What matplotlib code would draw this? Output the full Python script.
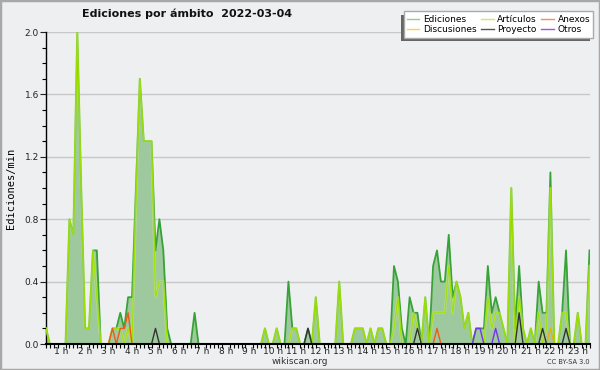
import numpy as np
import matplotlib
matplotlib.use('Agg')
import matplotlib.pyplot as plt
from matplotlib.patches import Rectangle
from matplotlib.lines import Line2D

# 10-minute bins, edits per minute
ediciones = [
    0.1, 0, 0, 0, 0, 0, 0.8, 0.7, 2.0, 1.0,
    0.1, 0.1, 0.6, 0.6, 0, 0, 0, 0.1, 0.1, 0.2,
    0.1, 0.3, 0.3, 1.0, 1.7, 1.3, 1.3, 1.3, 0.6, 0.8,
    0.6, 0.1, 0, 0, 0, 0, 0, 0, 0.2, 0,
    0, 0, 0, 0, 0, 0, 0, 0, 0, 0,
    0, 0, 0, 0, 0, 0, 0.1, 0, 0, 0.1,
    0, 0, 0.4, 0.1, 0.1, 0, 0, 0.1, 0, 0.3,
    0, 0, 0, 0, 0, 0.4, 0, 0, 0, 0.1,
    0.1, 0.1, 0, 0.1, 0, 0.1, 0.1, 0, 0, 0.5,
    0.4, 0.1, 0, 0.3, 0.2, 0.2, 0, 0.3, 0, 0.5,
    0.6, 0.4, 0.4, 0.7, 0.3, 0.4, 0.3, 0.1, 0.2, 0,
    0.1, 0.1, 0.1, 0.5, 0.2, 0.3, 0.2, 0.1, 0, 1.0,
    0.1, 0.5, 0.1, 0, 0.1, 0, 0.4, 0.2, 0.2, 1.1,
    0, 0, 0.2, 0.6, 0, 0, 0.2, 0, 0, 0.6,
]
articulos = [
    0.1, 0, 0, 0, 0, 0, 0.8, 0.7, 2.0, 1.0,
    0.1, 0.1, 0.6, 0.3, 0, 0, 0, 0.1, 0.1, 0.1,
    0, 0.1, 0, 0.9, 1.7, 1.3, 1.3, 1.3, 0.3, 0.4,
    0.4, 0, 0, 0, 0, 0, 0, 0, 0, 0,
    0, 0, 0, 0, 0, 0, 0, 0, 0, 0,
    0, 0, 0, 0, 0, 0, 0.1, 0, 0, 0.1,
    0, 0, 0, 0.1, 0.1, 0, 0, 0, 0, 0.3,
    0, 0, 0, 0, 0, 0.4, 0, 0, 0, 0.1,
    0.1, 0.1, 0, 0.1, 0, 0.1, 0.1, 0, 0, 0.1,
    0.3, 0, 0, 0, 0.2, 0.1, 0, 0.3, 0, 0.2,
    0.2, 0.2, 0.2, 0.5, 0.2, 0.4, 0.3, 0.1, 0.2, 0,
    0, 0, 0, 0.3, 0.1, 0.2, 0.2, 0.1, 0, 1.0,
    0, 0.3, 0.1, 0, 0.1, 0, 0.2, 0, 0.1, 1.0,
    0, 0, 0.2, 0.2, 0, 0, 0.2, 0, 0, 0.5,
]
# sparse series: {bin: value}
anexos = {17: 0.1, 19: 0.1, 20: 0.1, 21: 0.2, 100: 0.1}
discusiones = {129: 0.1}
proyecto = {28: 0.1, 67: 0.1, 95: 0.1, 121: 0.2, 127: 0.1, 133: 0.1}
otros = {110: 0.1, 111: 0.1, 115: 0.1}

hours = list(range(1, 24))
hour_labels = [f'{h} h' for h in hours]

n = len(ediciones)
x = np.arange(n)


def dense(d):
    v = np.zeros(n)
    for k, val in d.items():
        v[k] = val
    return v


def visible(v):
    # hide flat runs of zeros so only the bumps show
    v = np.asarray(v, dtype=float)
    nz = v > 0
    keep = nz | np.roll(nz, 1) | np.roll(nz, -1)
    return np.ma.masked_where(~keep, v)


def px_rect(left, top, right, bottom, **kw):
    # rectangle given in image pixels (origin top-left)
    return Rectangle((left / W, 1 - bottom / H), (right - left) / W, (bottom - top) / H,
                     transform=fig.transFigure, **kw)


bg = '#eeeff1'
W, H = 600, 370
fig = plt.figure(figsize=(6, 3.7), dpi=100, facecolor=bg)
ax = fig.add_axes([46 / W, 26 / H, 543.5 / W, 312 / H])
ax.set_facecolor(bg)

ed = np.array(ediciones)
ax.fill_between(x, 0, ed, color='#9ec99e', lw=0, zorder=2)
ax.plot(x, visible(ed), color='#37a337', lw=1.3, zorder=3)
ax.plot(x, visible(articulos), color='#d4f560', lw=1.8, alpha=0.45, zorder=4)
ax.plot(x, visible(articulos), color='#9fe000', lw=0.8, zorder=5)
ax.plot(x, visible(dense(anexos)), color='#ee5a1a', lw=1.0, zorder=6)
ax.plot(x, visible(dense(discusiones)), color='#eeb000', lw=1.0, zorder=6)
ax.plot(x, visible(dense(proyecto)), color='#333333', lw=1.0, zorder=6)
ax.plot(x, visible(dense(otros)), color='#7a33ee', lw=1.0, zorder=6)

ax.set_xlim(0, n - 1)
ax.set_ylim(0, 2.0)
ax.set_yticks(np.arange(0, 2.01, 0.4))
ax.set_yticks(np.arange(0, 2.01, 0.1), minor=True)
ax.set_yticklabels([f'{v:.1f}' for v in np.arange(0, 2.01, 0.4)])
ax.set_xticks([6 * h - 2 for h in hours])
ax.set_xticklabels(hour_labels)
ax.set_xticks(x, minor=True)
ax.tick_params(axis='x', which='major', length=0, pad=2, labelsize=6.5, colors='#222222')
ax.tick_params(axis='x', which='minor', length=3, width=0.8, color='#000000')
ax.tick_params(axis='y', which='major', length=4, width=0.8, labelsize=6.5, colors='#222222', pad=1)
ax.tick_params(axis='y', which='minor', length=3, width=0.8)
ax.grid(axis='y', which='major', color='#c8c8c8', lw=1, zorder=1)
ax.set_axisbelow(True)
for s in ('top', 'right'):
    ax.spines[s].set_visible(False)
ax.spines['left'].set_linewidth(1.0)
ax.spines['bottom'].set_linewidth(1.5)
ax.spines['bottom'].set_zorder(7)

ax.set_ylabel('Ediciones/min', family='DejaVu Sans Mono', fontsize=7.5, labelpad=6)
fig.text(187 / W, 1 - 14 / H, 'Ediciones por ámbito  2022-03-04',
         ha='center', va='center', fontsize=8, weight='bold', color='#111111')
fig.text(300 / W, 1 - 361 / H, 'wikiscan.org', ha='center', va='center',
         fontsize=6.5, color='#333333')
fig.text(590 / W, 1 - 362 / H, 'CC BY-SA 3.0', ha='right', va='center',
         fontsize=4.8, color='#333333')

# legend box: white panel, grey border, dark shadow strips on left and bottom
fig.add_artist(px_rect(401, 15, 404, 41, facecolor='#666666', edgecolor='none', zorder=4))
fig.add_artist(px_rect(401, 38, 590, 41, facecolor='#666666', edgecolor='none', zorder=4))
fig.add_artist(px_rect(404, 11, 593, 38, facecolor='white', edgecolor='#aaaaaa',
                       lw=1, zorder=5))
handles = [
    Line2D([], [], color='#8ed08e', lw=1), Line2D([], [], color='#ffd24a', lw=1),
    Line2D([], [], color='#c8ef60', lw=1), Line2D([], [], color='#555555', lw=1),
    Line2D([], [], color='#ff8a55', lw=1), Line2D([], [], color='#9a55ee', lw=1),
]
labels = ['Ediciones', 'Discusiones', 'Artículos', 'Proyecto', 'Anexos', 'Otros']
leg = fig.legend(handles, labels, ncol=3, loc='center',
                 bbox_to_anchor=(498.5 / W, 1 - 24.5 / H), frameon=False,
                 fontsize=6.5, handlelength=1.4, handletextpad=0.4,
                 columnspacing=0.5, labelspacing=0.1, borderaxespad=0)
leg.set_zorder(6)

fig.add_artist(Rectangle((0, 0), 1, 1, transform=fig.transFigure, fill=False,
                         edgecolor='#a8a8a8', lw=2.5, zorder=10))

fig.savefig('out.png', dpi=100, facecolor=bg)
